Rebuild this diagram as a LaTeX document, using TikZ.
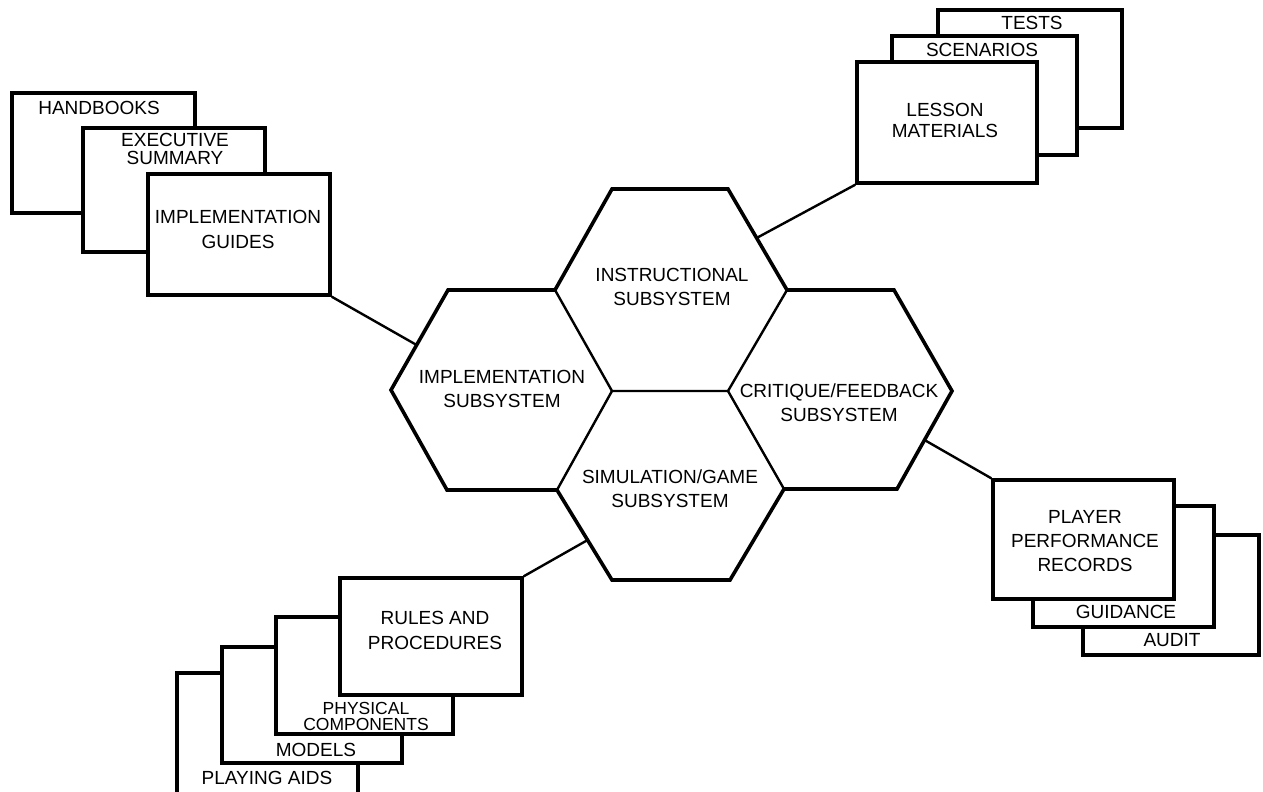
\documentclass[tikz,border=0pt]{standalone}
\usepackage{fontspec}
\setmainfont{Liberation Sans}
\usetikzlibrary{calc,fit}
\begin{document}
\begin{tikzpicture}[x=1pt,y=-1pt,
  card/.style={draw, line width=3.4pt, fill=white, inner sep=0pt},
  lbl/.style={font=\fontsize{19}{24}\selectfont, align=center, inner sep=0pt},
  hexo/.style={line width=3.6pt, line join=miter},
  hexi/.style={line width=2.4pt},
  link/.style={line width=2.4pt}]
\useasboundingbox (0,0) rectangle (1263,792);
\clip (0,0) rectangle (1263,792);

% ---------- honeycomb vertices ----------
\coordinate (A) at (612,189);
\coordinate (B) at (728,189);
\coordinate (C) at (787,290);
\coordinate (D) at (728,391);
\coordinate (E) at (612,391);
\coordinate (F) at (555,290);
\coordinate (G) at (448,290);
\coordinate (H) at (391,390);
\coordinate (I) at (447,490);
\coordinate (J) at (557,490);
\coordinate (K) at (612,580);
\coordinate (M) at (730,580);
\coordinate (N) at (784,489);
\coordinate (P) at (894,290);
\coordinate (Q) at (952,391);
\coordinate (R) at (897,489);

\draw[hexo] (A) -- (B) -- (C) -- (P) -- (Q) -- (R) -- (N) -- (M) -- (K) -- (J) -- (I) -- (H) -- (G) -- (F) -- cycle;
\draw[hexi] (F) -- (E) -- (D) -- (C);
\draw[hexi] (E) -- (J);
\draw[hexi] (D) -- (N);

\node[lbl] (instr) at (672,287) {INSTRUCTIONAL\\SUBSYSTEM};
\node[lbl] (impl) at (502,389) {IMPLEMENTATION\\SUBSYSTEM};
\node[lbl] (sim) at (670,489) {SIMULATION/GAME\\SUBSYSTEM};
\node[lbl] (crit) at (839,403) {CRITIQUE/FEEDBACK\\SUBSYSTEM};

% ---------- top-left stack ----------
\node[card, fit={(12,93) (195,213)}] (hb) {};
\node[card, fit={(83,128) (265,252)}] (es) {};
\node[card, fit={(148,174) (330,295)}] (ig) {};
\node[lbl] (hbt) at (99,108) {HANDBOOKS};
\node[lbl, font=\fontsize{19}{18.5}\selectfont] (est) at (175,149) {EXECUTIVE\\SUMMARY};
\node[lbl, font=\fontsize{19}{25}\selectfont] (igt) at (238,229.5) {IMPLEMENTATION\\GUIDES};

% ---------- top-right stack ----------
\node[card, fit={(938,10) (1122,128)}] (ts) {};
\node[card, fit={(892,36) (1077,155)}] (sc) {};
\node[card, fit={(857,62) (1037,183)}] (lm) {};
\node[lbl] (tst) at (1032,23) {TESTS};
\node[lbl] (sct) at (982,50) {SCENARIOS};
\node[lbl, font=\fontsize{19}{21}\selectfont] (lmt) at (945,120) {LESSON\\MATERIALS};

% ---------- right-bottom stack ----------
\node[card, fit={(1083,535) (1259,655)}] (au) {};
\node[card, fit={(1033,506) (1214,627)}] (gu) {};
\node[card, fit={(993,480) (1174,599)}] (pp) {};
\node[lbl] (ppt) at (1085,541) {PLAYER\\PERFORMANCE\\RECORDS};
\node[lbl] (gut) at (1126,612) {GUIDANCE};
\node[lbl] (aut) at (1172,640) {AUDIT};

% ---------- bottom-left stack ----------
\node[card, fit={(177,673) (358,810)}] (pa) {};
\node[card, fit={(222,647) (402,763)}] (mo) {};
\node[card, fit={(276,617) (453,734)}] (pc) {};
\node[card, fit={(340,578) (522,695)}] (rp) {};
\node[lbl, font=\fontsize{19}{25}\selectfont] (rpt) at (435,630.5) {RULES AND\\PROCEDURES};
\node[lbl, font=\fontsize{17.5}{16.5}\selectfont] (pct) at (366,716.5) {PHYSICAL\\COMPONENTS};
\node[lbl] (mot) at (316,750) {MODELS};
\node[lbl] (pat) at (267,778) {PLAYING AIDS};

% ---------- connectors ----------
\coordinate (eImpl) at ($(G)!0.55!(H)$);
\coordinate (eInstr) at ($(B)!0.485!(C)$);
\coordinate (eCrit) at ($(Q)!0.5!(R)$);
\coordinate (eSim) at ($(J)!0.556!(K)$);
\draw[link] (ig.south east) -- (eImpl);
\draw[link] (lm.south west) -- (eInstr);
\draw[link] (pp.north west) -- (eCrit);
\draw[link] (rp.north east) -- (eSim);
\end{tikzpicture}
\end{document}
